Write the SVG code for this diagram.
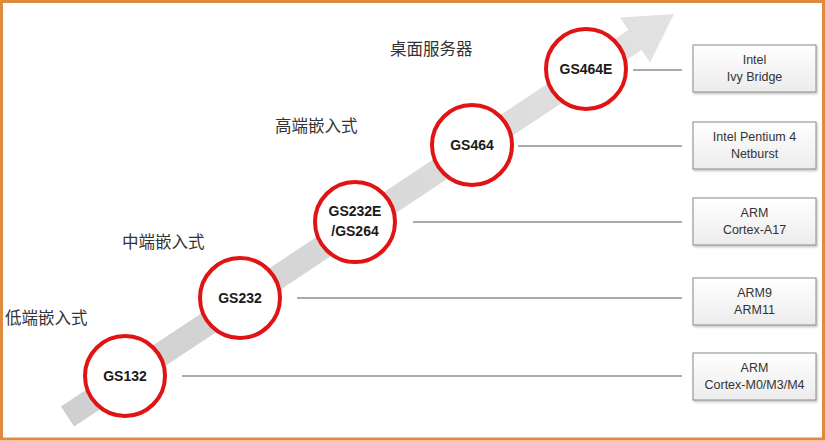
<svg xmlns="http://www.w3.org/2000/svg" width="825" height="441" viewBox="0 0 825 441">
<defs>
<linearGradient id="arrowGrad" x1="60" y1="416" x2="674" y2="14" gradientUnits="userSpaceOnUse">
<stop offset="0" stop-color="#cfcfcf"/>
<stop offset="1" stop-color="#e2e2e2"/>
</linearGradient>
<linearGradient id="boxGrad" x1="0" y1="0" x2="0" y2="1">
<stop offset="0" stop-color="#ffffff"/>
<stop offset="1" stop-color="#ececec"/>
</linearGradient>
<filter id="shadow" x="-10%" y="-10%" width="125%" height="135%">
<feDropShadow dx="1" dy="1.5" stdDeviation="1" flood-color="#000" flood-opacity="0.25"/>
</filter>
</defs>
<style>
.circ{fill:#ffffff;stroke:#e01414;stroke-width:4}
.clabel{font-family:"Liberation Sans",Arial,sans-serif;font-weight:bold;font-size:14px;fill:#1a1a1a;text-anchor:middle}
.box{fill:url(#boxGrad);stroke:#8a8a8a;stroke-width:1;filter:url(#shadow)}
.blabel{font-family:"Liberation Sans",Arial,sans-serif;font-size:12.5px;fill:#333;text-anchor:middle}
.cat{font-family:"Noto Sans CJK SC","Noto Sans",sans-serif;font-size:16.5px;fill:#333}
.conn{stroke:#555;stroke-width:1.2;fill:none}
</style>
<rect x="0" y="0" width="825" height="441" fill="#ffffff"/>
<rect x="1.5" y="1.5" width="822" height="437.5" fill="none" stroke="#e08a40" stroke-width="3"/>
<polygon id="trend-arrow" points="60.9,406.5 628.4,30 620,17.5 674,14 650,62.5 641.6,50 74.1,426.5" fill="url(#arrowGrad)"/>
<g id="connectors">
<line class="conn" x1="182" y1="376" x2="682" y2="376"/>
<line class="conn" x1="297" y1="298" x2="682" y2="298"/>
<line class="conn" x1="413" y1="222" x2="682" y2="222"/>
<line class="conn" x1="518" y1="146" x2="682" y2="146"/>
<line class="conn" x1="633" y1="70" x2="682" y2="70"/>
</g>
<g id="cat-low"><text class="cat" x="5" y="324">低端嵌入式</text></g>
<g id="cat-mid"><text class="cat" x="122" y="248">中端嵌入式</text></g>
<g id="cat-high"><text class="cat" x="275" y="132">高端嵌入式</text></g>
<g id="cat-desktop"><text class="cat" x="390" y="55">桌面服务器</text></g>
<g id="node-gs132"><circle class="circ" cx="125" cy="376" r="40"/><text class="clabel" x="125" y="381">GS132</text></g>
<g id="node-gs232"><circle class="circ" cx="240" cy="298" r="40"/><text class="clabel" x="240" y="303">GS232</text></g>
<g id="node-gs232e"><circle class="circ" cx="355" cy="222" r="40"/><text class="clabel" x="355" y="216">GS232E</text><text class="clabel" x="355" y="236">/GS264</text></g>
<g id="node-gs464"><circle class="circ" cx="472" cy="145" r="40"/><text class="clabel" x="472" y="150">GS464</text></g>
<g id="node-gs464e"><circle class="circ" cx="586" cy="69" r="40"/><text class="clabel" x="586" y="74">GS464E</text></g>
<g id="box-ivy"><rect class="box" x="693" y="45" width="123" height="47"/><text class="blabel" x="754.5" y="64">Intel</text><text class="blabel" x="754.5" y="81">Ivy Bridge</text></g>
<g id="box-p4"><rect class="box" x="693" y="122" width="123" height="47"/><text class="blabel" x="754.5" y="141">Intel Pentium 4</text><text class="blabel" x="754.5" y="158">Netburst</text></g>
<g id="box-a17"><rect class="box" x="693" y="198" width="123" height="47"/><text class="blabel" x="754.5" y="217">ARM</text><text class="blabel" x="754.5" y="234">Cortex-A17</text></g>
<g id="box-arm9"><rect class="box" x="693" y="278" width="123" height="47"/><text class="blabel" x="754.5" y="297">ARM9</text><text class="blabel" x="754.5" y="314">ARM11</text></g>
<g id="box-m"><rect class="box" x="693" y="353" width="123" height="47"/><text class="blabel" x="754.5" y="372">ARM</text><text class="blabel" x="754.5" y="389">Cortex-M0/M3/M4</text></g>
</svg>
